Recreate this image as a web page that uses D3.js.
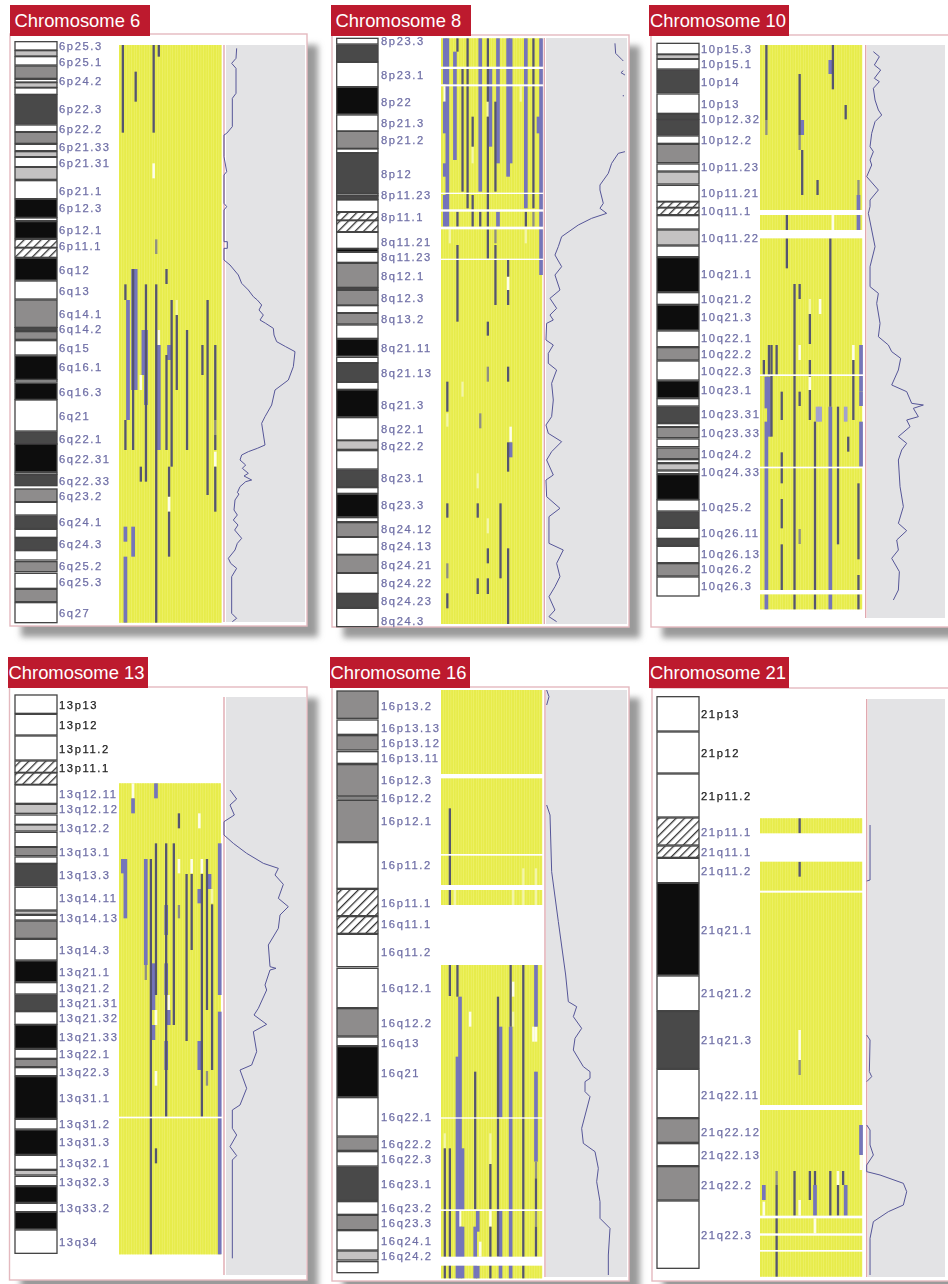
<!DOCTYPE html>
<html>
<head>
<meta charset="utf-8">
<script src="https://cdn.jsdelivr.net/npm/d3@7"></script>
<style>
  html, body { margin: 0; padding: 0; background: #fff; }
  svg { display: block; }
</style>
</head>
<body>
<div id="chart"></div>
<script>
// positions along a chromosome track are in track units (1920 units per row)
// kinds of call in the array panel
const D = "dark", B = "blue", G = "grey", L = "lilac", W = "white", P = "pale";
// band stains
const w = "w", l = "l", g = "g", d = "d", k = "k", h = "h";

const chr6Bands = [[125,150,w],[152,168,l],[170,195,w],[198,235,g],[238,246,w],[248,262,l],[264,283,w],[285,372,d],[375,395,w],[397,430,g],[433,452,w],[455,470,l],[472,500,w],[502,538,l],[542,596,w],[598,652,k],[654,662,w],[665,715,k],[718,742,h],[744,772,h],[775,840,k],[843,897,w],[900,982,g],[983,992,d],[995,1018,g],[1022,1065,w],[1068,1138,k],[1140,1146,w],[1150,1198,k],[1200,1293,w],[1296,1332,d],[1332,1415,k],[1418,1423,w],[1425,1457,d],[1467,1505,g],[1507,1545,w],[1548,1585,d],[1588,1612,w],[1615,1650,d],[1652,1680,w],[1685,1715,g],[1720,1765,w],[1768,1805,g],[1808,1868,w]];
const chr6Names = ["6p25.3","6p25.1","6p24.2","6p22.3","6p22.2","6p21.33","6p21.31","6p21.1","6p12.3","6p12.1","6p11.1","6q12","6q13","6q14.1","6q14.2","6q15","6q16.1","6q16.3","6q21","6q22.1","6q22.31","6q22.33","6q23.2","6q24.1","6q24.3","6q25.2","6q25.3","6q27"];
const chr6NamePos = [138,185,243,328,387,442,488,572,625,691,737,810,872,942,988,1045,1100,1175,1247,1318,1378,1443,1488,1566,1632,1698,1745,1838];
const chr6Extent = [135,1868];
const chr6Gaps = [];
const chr6Calls = [[1,135,398,D],[13,135,398,D],[15,135,170,D],[6,215,305,D],[13,490,535,W],[14,718,762,G],[14,853,1868,D],[18,807,852,D],[2,853,900,D],[3,900,1260,B],[2,1260,1350,D],[5,807,1350,D],[5,807,1170,B],[6,807,1170,B],[9,990,1125,B],[10,990,1215,B],[10,853,1445,D],[8,1125,1170,W],[8,1400,1445,D],[20,900,1400,D],[22,945,1170,D],[22,900,945,P],[15,1035,1350,B],[15,990,1035,W],[18,1065,1350,D],[19,1035,1080,B],[26,990,1350,D],[32,1035,1125,D],[34,900,1485,D],[37,1035,1260,D],[37,1260,1305,G],[37,1305,1350,D],[37,1355,1400,W],[37,1400,1535,D],[19,1400,1490,D],[19,1490,1535,W],[19,1535,1670,D],[2,1580,1625,B],[5,1580,1670,B],[2,1670,1868,B]];
const chr6Curve = [[[38,145],[36,175],[23,190],[36,205],[36,280],[25,295],[25,380],[8,400],[0,405],[0,470],[8,515],[0,525],[0,610],[8,620],[0,630],[0,725],[10,725],[10,745],[0,745],[0,780],[18,795],[43,825],[53,850],[73,870],[88,890],[100,900],[113,915],[105,930],[118,945],[108,960],[125,970],[148,985],[150,1005],[158,1025],[185,1040],[213,1055],[208,1100],[193,1140],[153,1170],[143,1215],[123,1250],[113,1270],[123,1335],[100,1345],[73,1355],[53,1365],[48,1380],[65,1395],[55,1405],[73,1420],[60,1428],[83,1440],[65,1445],[48,1460],[40,1478],[45,1482],[33,1500],[30,1530],[40,1545],[28,1560],[42,1575],[32,1590],[53,1615],[40,1630],[33,1650],[13,1675],[20,1690],[38,1705],[23,1730],[23,1840],[38,1855],[25,1865]]];

const chr8Bands = [[115,132,w],[135,185,d],[187,260,w],[262,342,k],[345,393,w],[394,445,g],[447,458,w],[460,580,d],[582,587,w],[588,598,d],[600,635,w],[637,660,h],[662,695,h],[697,745,w],[747,755,k],[757,787,w],[790,862,g],[864,870,d],[871,915,g],[917,938,w],[940,972,g],[975,1015,w],[1018,1068,k],[1072,1088,w],[1090,1145,d],[1147,1168,w],[1170,1250,k],[1253,1320,w],[1322,1348,l],[1352,1407,w],[1410,1460,d],[1463,1480,w],[1483,1550,k],[1553,1565,w],[1568,1610,g],[1612,1663,w],[1665,1718,g],[1720,1780,w],[1782,1822,d],[1825,1880,w]];
const chr8Names = ["8p23.3","8p23.1","8p22","8p21.3","8p21.2","8p12","8p11.23","8p11.1","8q11.21","8q11.23","8q12.1","8q12.3","8q13.2","8q21.11","8q21.13","8q21.3","8q22.1","8q22.2","8q23.1","8q23.3","8q24.12","8q24.13","8q24.21","8q24.22","8q24.23","8q24.3"];
const chr8NamePos = [122,225,305,368,420,522,585,652,725,772,828,895,958,1043,1120,1215,1288,1338,1435,1515,1588,1638,1695,1750,1803,1862];
const chr8Extent = [115,1872];
const chr8Gaps = [[200,207],[253,259],[578,582],[628,635],[680,688],[776,780]];
const chr8Calls = [[1,115,253,B],[1,305,400,B],[1,490,530,B],[1,585,680,B],[2,115,680,B],[1,259,305,W],[6,115,155,D],[5,155,480,B],[6,635,680,D],[8,207,575,D],[10,115,625,D],[12,350,440,D],[12,585,680,D],[12,440,490,P],[15,115,575,B],[15,635,680,D],[18,115,305,D],[18,305,350,P],[18,350,680,D],[19,207,440,B],[18,688,776,D],[21,305,575,D],[21,735,915,D],[22,115,490,B],[22,635,680,B],[26,115,530,B],[27,115,490,B],[26,780,830,D],[26,830,870,W],[26,870,915,D],[33,115,625,B],[33,635,680,D],[31,259,305,P],[36,115,625,D],[36,635,680,G],[39,115,825,B],[38,350,400,B],[3,688,730,P],[21,688,730,G],[33,688,730,P],[6,735,965,D],[18,965,1007,D],[18,1100,1145,G],[26,1100,1145,D],[2,1145,1235,D],[2,1240,1280,P],[8,1145,1190,P],[15,1240,1285,G],[27,1280,1325,W],[27,1327,1372,B],[26,1327,1415,D],[14,1420,1465,P],[2,1510,1553,D],[14,1510,1553,D],[23,1510,1735,D],[18,1555,1600,P],[18,1645,1690,D],[26,1645,1872,D],[2,1690,1735,G],[14,1735,1782,D],[18,1735,1782,D],[2,1780,1825,D]];
const chr8Curve = [[[212,130],[214,160],[232,178],[237,183]],[[237,212],[230,218],[242,225]],[[237,285],[237,289]],[[242,455],[222,460],[202,490],[192,520],[167,555],[167,570],[177,610],[167,625],[187,640],[142,655],[102,675],[52,710],[42,740],[32,765],[52,800],[32,825],[47,870],[17,895],[37,925],[17,945],[27,960],[7,970],[5,1020],[27,1035],[12,1060],[12,1090],[37,1110],[22,1150],[27,1200],[22,1250],[5,1275],[12,1300],[52,1325],[22,1355],[7,1380],[27,1425],[5,1440],[7,1490],[47,1525],[14,1550],[14,1630],[57,1650],[37,1690],[47,1730],[32,1760],[14,1790],[32,1830],[14,1850],[37,1865]]];

const chr10Bands = [[130,162,w],[164,176,l],[178,207,w],[210,278,d],[282,340,w],[343,358,d],[360,405,d],[408,430,w],[433,488,g],[492,513,w],[516,552,l],[556,604,w],[606,622,h],[624,644,h],[647,687,w],[690,735,l],[738,770,w],[773,875,k],[878,913,w],[916,990,k],[993,1040,w],[1043,1080,g],[1083,1140,w],[1143,1193,k],[1196,1218,w],[1221,1268,d],[1271,1280,w],[1282,1313,g],[1317,1340,w],[1344,1376,g],[1379,1388,w],[1391,1410,l],[1413,1421,w],[1424,1498,k],[1500,1533,w],[1536,1582,d],[1585,1615,w],[1617,1636,d],[1639,1688,w],[1691,1728,g],[1731,1788,w]];
const chr10Names = ["10p15.3","10p15.1","10p14","10p13","10p12.32","10p12.2","10p11.23","10p11.21","10q11.1","10q11.22","10q21.1","10q21.2","10q21.3","10q22.1","10q22.2","10q22.3","10q23.1","10q23.31","10q23.33","10q24.2","10q24.33","10q25.2","10q26.11","10q26.13","10q26.2","10q26.3"];
const chr10NamePos = [148,193,247,312,358,421,500,578,633,714,823,897,952,1015,1061,1113,1170,1243,1299,1363,1417,1520,1600,1663,1708,1757];
const chr10Extent = [135,1828];
const chr10Gaps = [[630,645],[690,715],[1123,1128],[1400,1405],[1770,1783]];
const chr10Calls = [[2,135,360,D],[2,360,405,G],[28,135,268,D],[27,180,222,B],[15,222,405,D],[15,405,450,G],[16,360,405,B],[16,450,585,D],[33,315,358,D],[22,540,585,D],[38,540,585,G],[38,585,630,B],[38,645,690,B],[10,645,690,D],[10,715,805,D],[28,645,690,W],[27,715,1220,D],[27,1220,1770,B],[27,1783,1828,B],[13,852,1770,D],[13,1783,1828,D],[15,852,897,D],[19,942,1032,D],[23,897,942,W],[19,897,942,P],[3,1035,1125,D],[4,1035,1310,D],[3,1130,1310,B],[6,1035,1125,D],[1,1080,1125,D],[2,1130,1225,B],[2,1265,1770,B],[2,1783,1828,B],[15,1035,1080,W],[15,1175,1218,D],[19,1080,1130,D],[19,1130,1170,W],[19,1170,1260,D],[8,1175,1260,D],[8,1357,1450,D],[8,1497,1585,D],[8,1633,1770,D],[36,1080,1260,D],[36,1035,1080,W],[39,1035,1175,B],[39,1175,1218,B],[39,1265,1400,B],[22,1220,1265,L],[23,1220,1265,L],[21,1265,1770,D],[21,1783,1828,D],[30,1220,1633,D],[33,1220,1265,L],[34,1310,1355,D],[38,1450,1678,D],[38,1725,1770,D],[38,1783,1828,D],[15,1587,1632,G]];
const chr10Curve = [[[23,155],[41,170],[26,195],[45,210],[26,235],[41,245],[23,265],[28,300],[38,330],[48,345],[28,365],[18,400],[13,440],[23,455],[13,480],[18,495],[3,530],[38,570],[13,600],[13,620],[8,640],[28,740],[13,800],[13,860],[38,880],[33,910],[43,970],[38,1010],[68,1035],[78,1055],[105,1075],[98,1110],[78,1155],[123,1175],[138,1210],[173,1215],[143,1225],[158,1250],[123,1260],[133,1280],[98,1310],[123,1330],[108,1350],[98,1380],[103,1460],[113,1520],[98,1570],[123,1592],[93,1620],[98,1650],[78,1675],[101,1715],[98,1770],[83,1800]]];

const chr13Bands = [[120,175,w],[178,240,w],[243,315,w],[318,352,h],[354,388,h],[390,445,w],[448,475,l],[480,508,w],[510,528,l],[532,575,w],[577,602,g],[606,625,w],[628,693,d],[697,765,w],[768,778,l],[781,795,w],[798,850,g],[853,915,w],[918,980,k],[983,1017,w],[1020,1067,d],[1070,1108,w],[1110,1180,k],[1183,1210,w],[1213,1235,g],[1238,1262,w],[1265,1390,k],[1393,1422,w],[1425,1498,k],[1501,1543,w],[1546,1560,l],[1564,1592,w],[1595,1642,k],[1645,1670,w],[1672,1722,k],[1725,1795,w]];
const chr13Names = ["13p13","13p12","13p11.2","13p11.1","13q12.11","13q12.12","13q12.2","13q13.1","13q13.3","13q14.11","13q14.13","13q14.3","13q21.1","13q21.2","13q21.31","13q21.32","13q21.33","13q22.1","13q22.3","13q31.1","13q31.2","13q31.3","13q32.1","13q32.3","13q33.2","13q34"];
const chr13NamePos = [150,210,282,338,418,463,520,590,660,730,790,884,950,998,1044,1090,1146,1196,1252,1328,1408,1460,1524,1580,1660,1762];
const chr13Extent = [385,1798];
const chr13Gaps = [[1385,1390]];
const chr13Calls = [[5,385,430,W],[5,430,475,B],[14,385,430,B],[23,475,520,D],[31,475,520,W],[14,565,1020,D],[18,565,1385,D],[18,750,840,B],[21,565,1110,D],[39,565,1020,B],[39,1070,1798,B],[1,612,655,B],[2,612,790,B],[10,612,930,B],[10,930,975,G],[12,612,1798,D],[23,612,655,W],[23,750,790,G],[26,657,1158,D],[28,612,655,W],[28,657,885,D],[32,657,1385,D],[32,612,655,W],[34,612,1065,D],[35,657,702,B],[31,702,745,B],[36,702,745,P],[36,748,1245,D],[18,925,1020,B],[13,925,1065,B],[13,1110,1155,B],[14,1065,1110,W],[14,1248,1292,W],[19,1020,1065,W],[19,1065,1110,B],[18,1158,1245,B],[31,1158,1245,B],[34,1248,1292,G],[14,1480,1525,D]];
const chr13Curve = [[[18,405],[38,432],[18,450],[31,480],[0,500],[0,540],[28,565],[68,595],[118,625],[163,640],[153,660],[178,688],[163,730],[193,755],[168,780],[163,820],[133,870],[138,935],[156,940],[138,945],[123,990],[128,1005],[103,1060],[90,1080],[128,1108],[88,1130],[98,1190],[83,1230],[48,1245],[68,1300],[48,1350],[25,1365],[25,1420],[38,1440],[18,1475],[38,1502],[25,1515],[25,1810]]];

const chr16Bands = [[108,190,g],[195,238,w],[242,285,g],[290,325,w],[329,423,g],[426,432,w],[436,560,g],[563,700,w],[703,782,h],[785,835,h],[838,935,w],[940,1058,w],[1061,1143,g],[1146,1172,w],[1175,1325,k],[1328,1443,w],[1446,1486,g],[1490,1533,w],[1536,1636,d],[1640,1678,w],[1681,1724,g],[1727,1785,w],[1788,1815,l],[1820,1853,w]];
const chr16Names = ["16p13.2","16p13.13","16p13.12","16p13.11","16p12.3","16p12.2","16p12.1","16p11.2","16p11.1","16q11.1","16q11.2","16q12.1","16q12.2","16q13","16q21","16q22.1","16q22.2","16q22.3","16q23.1","16q23.2","16q23.3","16q24.1","16q24.2"];
const chr16NamePos = [152,218,264,309,376,429,497,631,743,808,890,998,1104,1163,1255,1387,1468,1512,1587,1660,1705,1758,1803];
const chr16Extent = [105,1870];
const chr16Gaps = [[357,370],[597,602],[690,705],[750,930],[1387,1391],[1663,1668],[1805,1832]];
const chr16Calls = [[3,460,750,D],[3,930,1023,D],[6,930,1025,D],[7,1025,1665,B],[6,1205,1665,B],[8,1480,1665,B],[6,1668,1870,B],[7,1668,1715,W],[7,1715,1870,B],[8,1715,1870,B],[13,1250,1663,D],[14,1668,1730,B],[13,1715,1870,B],[15,1760,1805,W],[14,1832,1870,B],[22,1025,1805,D],[23,1115,1387,B],[23,1668,1870,B],[27,930,1115,D],[27,1115,1870,B],[32,930,1870,D],[37,930,1115,B],[37,1115,1160,W],[36,1115,1160,W],[37,1250,1520,B],[37,1520,1570,G],[37,1570,1665,D],[37,1668,1715,G],[37,1715,1805,D],[1,1435,1480,P],[1,1480,1870,D],[3,1480,1870,D],[19,1435,1527,P],[19,1527,1663,D],[19,1668,1715,W],[19,1715,1870,D],[11,1070,1115,W],[28,980,1025,W],[28,1070,1115,P],[32,640,750,P],[37,640,750,P],[28,705,750,P],[5,705,750,P]];
const chr16Curve = [[[5,105],[12,125],[5,150]],[[5,450],[15,480],[20,650],[40,800],[62,960],[70,1040],[95,1055],[85,1085],[110,1120],[90,1150],[85,1185],[115,1235],[135,1250],[135,1270],[120,1280],[120,1310],[135,1325],[110,1420],[115,1465],[150,1490],[160,1540],[155,1580],[165,1640],[165,1690],[195,1720],[190,1800],[190,1860]]];

const chr21Bands = [[125,228,w],[231,354,w],[357,486,w],[489,570,h],[573,607,h],[610,683,w],[685,960,k],[963,1067,w],[1070,1240,d],[1243,1388,w],[1391,1462,g],[1466,1532,w],[1535,1635,g],[1638,1840,w]];
const chr21Names = ["21p13","21p12","21p11.2","21p11.1","21q11.1","21q11.2","21q21.1","21q21.2","21q21.3","21q22.11","21q22.12","21q22.13","21q22.2","21q22.3"];
const chr21NamePos = [178,293,423,532,592,647,826,1015,1155,1320,1430,1500,1590,1740];
const chr21Extent = [490,1865];
const chr21Gaps = [[535,620],[707,713],[1350,1365],[1682,1690],[1735,1742],[1785,1790]];
const chr21Calls = [[15,490,535,D],[15,620,665,D],[15,1125,1215,W],[15,1215,1260,G],[39,1410,1500,B],[39,1500,1545,W],[6,1548,1590,G],[6,1590,1865,D],[1,1590,1635,B],[1,1640,1682,W],[13,1548,1682,D],[19,1548,1635,D],[21,1548,1590,D],[21,1590,1682,B],[21,1690,1735,W],[15,1635,1682,W],[27,1548,1682,D],[30,1590,1682,D],[30,1548,1590,W],[32,1548,1590,D],[33,1590,1682,B]];
const chr21Curve = [[[10,510],[10,675],[0,678]],[[0,1140],[10,1155],[8,1250],[15,1265],[0,1280]],[[0,1410],[10,1425],[10,1470],[20,1500],[0,1530],[0,1550],[40,1560],[110,1585],[120,1610],[110,1650],[65,1670],[20,1700],[10,1750],[10,1860]]];

// labels of the short arms without array coverage are printed black
const blackNames = ["13p13","13p12","13p11.2","13p11.1","21p13","21p12","21p11.2"];

const stainColor = { w: "#ffffff", l: "#c4c2c2", g: "#8e8c8c", d: "#4a484a", k: "#0f0d0d" };
const callStyle = {
    blue:  { fill: "#7474ba", grow: 1.45 },
    lilac: { fill: "#a2a2ce", grow: 1.45 },
    dark:  { fill: "#55556f", grow: 0.9 },
    grey:  { fill: "#8f8f82", grow: 0.9 },
    white: { fill: "#fdfde8", grow: 1 },
    pale:  { fill: "#f3f5a8", grow: 0.9 }
};
const callOrder = ["pale", "white", "lilac", "blue", "grey", "dark"];

const panels = [
    { title: "Chromosome 6", bands: chr6Bands, names: chr6Names, namePos: chr6NamePos, extent: chr6Extent, gaps: chr6Gaps, calls: chr6Calls, curve: chr6Curve,
      rowTop: 0, titleBox: [10, 5, 140, 31], titleX: 14.5, frame: [10, 34, 297, 592], ideo: [15, 57], labelX: 59, arrayX: [119, 221.7], baseX: 224, grey: [226, 305], greyY: [45, 622] },
    { title: "Chromosome 8", bands: chr8Bands, names: chr8Names, namePos: chr8NamePos, extent: chr8Extent, gaps: chr8Gaps, calls: chr8Calls, curve: chr8Curve,
      rowTop: 0, titleBox: [331, 5, 140, 31], titleX: 335.5, frame: [332, 35, 297, 592], ideo: [336.7, 378], labelX: 381, arrayX: [441, 542.3], baseX: 544.3, grey: [546, 627], greyY: [38, 624] },
    { title: "Chromosome 10", bands: chr10Bands, names: chr10Names, namePos: chr10NamePos, extent: chr10Extent, gaps: chr10Gaps, calls: chr10Calls, curve: chr10Curve,
      rowTop: 0, titleBox: [649, 5, 140, 31], titleX: 650, frame: [651, 35, 300, 592], ideo: [657, 699], labelX: 701, arrayX: [760, 862.3], baseX: 865.7, grey: [867, 945], greyY: [45, 618] },
    { title: "Chromosome 13", bands: chr13Bands, names: chr13Names, namePos: chr13NamePos, extent: chr13Extent, gaps: chr13Gaps, calls: chr13Calls, curve: chr13Curve,
      rowTop: 655, titleBox: [8, 657, 140, 31], titleX: 8.5, frame: [9.5, 687, 297.5, 593], ideo: [15, 57], labelX: 59, arrayX: [119, 221], baseX: 224, grey: [226, 306], greyY: [697, 1275] },
    { title: "Chromosome 16", bands: chr16Bands, names: chr16Names, namePos: chr16NamePos, extent: chr16Extent, gaps: chr16Gaps, calls: chr16Calls, curve: chr16Curve,
      rowTop: 655, titleBox: [330, 657, 140, 31], titleX: 330.5, frame: [332, 687, 297, 594], ideo: [337, 378], labelX: 381, arrayX: [441, 542.3], baseX: 545, grey: [546, 627], greyY: [690, 1277] },
    { title: "Chromosome 21", bands: chr21Bands, names: chr21Names, namePos: chr21NamePos, extent: chr21Extent, gaps: chr21Gaps, calls: chr21Calls, curve: chr21Curve,
      rowTop: 655, titleBox: [649, 657, 140, 31], titleX: 650, frame: [652, 688, 300, 593], ideo: [657, 699], labelX: 701, arrayX: [760, 862.3], baseX: 866.7, grey: [868, 945], greyY: [699, 1277] }
];

const sampleCount = 40;
const samples = d3.range(sampleCount);

const svg = d3.select("#chart").append("svg")
    .attr("width", 948)
    .attr("height", 1284);

const defs = svg.append("defs");

defs.append("filter").attr("id", "soft")
    .attr("x", "-5%").attr("y", "-5%").attr("width", "110%").attr("height", "110%")
  .append("feGaussianBlur").attr("stdDeviation", 0.45);

defs.append("filter").attr("id", "shadow")
    .attr("x", "-10%").attr("y", "-10%").attr("width", "120%").attr("height", "120%")
  .append("feGaussianBlur").attr("stdDeviation", 3.2);

const hatch = defs.append("pattern")
    .attr("id", "hatch")
    .attr("width", 6)
    .attr("height", 6)
    .attr("patternUnits", "userSpaceOnUse")
    .attr("patternTransform", "rotate(-45)");
hatch.append("rect").attr("width", 6).attr("height", 6).attr("fill", "#fff");
hatch.append("rect").attr("width", 6).attr("height", 1.3).attr("fill", "#333");

// shadows go first so a panel never covers its own frame
svg.selectAll("rect.shadow")
    .data(panels)
  .enter().append("rect")
    .attr("class", "shadow")
    .attr("x", p => p.frame[0] + 11)
    .attr("y", p => p.frame[1] + 11)
    .attr("width", p => p.frame[2])
    .attr("height", p => p.frame[3])
    .attr("fill", "#9a9a9a")
    .attr("filter", "url(#shadow)");

panels.forEach(function(p) {
    const yScale = d3.scaleLinear()
        .domain([0, 1920])
        .range([p.rowTop, p.rowTop + 640]);

    const xScale = d3.scaleBand()
        .domain(samples)
        .range(p.arrayX);

    const freqScale = d3.scaleLinear()
        .domain([0, 240])
        .range([p.baseX, p.baseX + 80]);

    const g = svg.append("g");

    g.append("rect")
        .attr("x", p.frame[0])
        .attr("y", p.frame[1])
        .attr("width", p.frame[2])
        .attr("height", p.frame[3])
        .attr("fill", "#fff")
        .attr("stroke", "#e4b9bf")
        .attr("stroke-width", 1.4);

    const body = g.append("g").attr("filter", "url(#soft)");

    // grey frequency track
    body.append("rect")
        .attr("x", p.grey[0])
        .attr("y", p.greyY[0])
        .attr("width", p.grey[1] - p.grey[0])
        .attr("height", p.greyY[1] - p.greyY[0])
        .attr("fill", "#e3e3e5");

    body.append("line")
        .attr("x1", p.baseX)
        .attr("x2", p.baseX)
        .attr("y1", p.greyY[0])
        .attr("y2", p.greyY[1])
        .attr("stroke", "#e0a9b0")
        .attr("stroke-width", 1.4);

    // ideogram
    body.selectAll("rect.band")
        .data(p.bands)
      .enter().append("rect")
        .attr("class", "band")
        .attr("x", p.ideo[0])
        .attr("y", b => yScale(b[0]))
        .attr("width", p.ideo[1] - p.ideo[0])
        .attr("height", b => yScale(b[1]) - yScale(b[0]))
        .attr("fill", b => b[2] === "h" ? "url(#hatch)" : stainColor[b[2]])
        .attr("stroke", "#444")
        .attr("stroke-width", 1.3);

    // array columns
    body.append("rect")
        .attr("x", p.arrayX[0])
        .attr("y", yScale(p.extent[0]))
        .attr("width", p.arrayX[1] - p.arrayX[0])
        .attr("height", yScale(p.extent[1]) - yScale(p.extent[0]))
        .attr("fill", "#f1f37c");

    body.selectAll("rect.col")
        .data(samples)
      .enter().append("rect")
        .attr("class", "col")
        .attr("x", s => xScale(s))
        .attr("y", yScale(p.extent[0]))
        .attr("width", xScale.bandwidth() - 0.45)
        .attr("height", yScale(p.extent[1]) - yScale(p.extent[0]))
        .attr("fill", "#e7ec4c");

    const calls = p.calls.slice().sort((a, b) => callOrder.indexOf(a[3]) - callOrder.indexOf(b[3]));

    body.selectAll("rect.call")
        .data(calls)
      .enter().append("rect")
        .attr("class", "call")
        .attr("x", c => xScale(c[0]) + xScale.bandwidth() * (1 - callStyle[c[3]].grow) / 2)
        .attr("y", c => yScale(c[1]))
        .attr("width", c => xScale.bandwidth() * callStyle[c[3]].grow)
        .attr("height", c => yScale(c[2]) - yScale(c[1]))
        .attr("fill", c => callStyle[c[3]].fill);

    body.selectAll("rect.gap")
        .data(p.gaps)
      .enter().append("rect")
        .attr("class", "gap")
        .attr("x", p.arrayX[0] - 1)
        .attr("y", c => yScale(c[0]))
        .attr("width", p.arrayX[1] - p.arrayX[0] + 2)
        .attr("height", c => yScale(c[1]) - yScale(c[0]))
        .attr("fill", "#fff");

    // frequency curve, broken where there is no coverage
    const line = d3.line()
        .x(c => freqScale(c[0]))
        .y(c => yScale(c[1]));

    body.selectAll("path.freq")
        .data(p.curve)
      .enter().append("path")
        .attr("class", "freq")
        .attr("d", line)
        .attr("fill", "none")
        .attr("stroke", "#565698")
        .attr("stroke-width", 1);

    // cytoband names
    body.selectAll("text.name")
        .data(p.names)
      .enter().append("text")
        .attr("class", "name")
        .attr("x", p.labelX)
        .attr("y", (n, i) => yScale(p.namePos[i]))
        .attr("dy", "0.35em")
        .attr("font-family", "'Liberation Sans', Arial, sans-serif")
        .attr("font-size", 11.2)
        .attr("letter-spacing", 1.6)
        .attr("fill", n => blackNames.includes(n) ? "#222" : "#6f6fa6")
        .attr("stroke", n => blackNames.includes(n) ? "#222" : "#6f6fa6")
        .attr("stroke-width", 0.25)
        .text(n => n);

    // red title tab
    g.append("rect")
        .attr("x", p.titleBox[0])
        .attr("y", p.titleBox[1])
        .attr("width", p.titleBox[2])
        .attr("height", p.titleBox[3])
        .attr("fill", "#bd1a2e");

    g.append("text")
        .attr("x", p.titleX)
        .attr("y", p.titleBox[1] + 21.5)
        .attr("font-family", "'Liberation Sans', Arial, sans-serif")
        .attr("font-size", 18.4)
        .attr("fill", "#fff")
        .text(p.title);
});
</script>
</body>
</html>
